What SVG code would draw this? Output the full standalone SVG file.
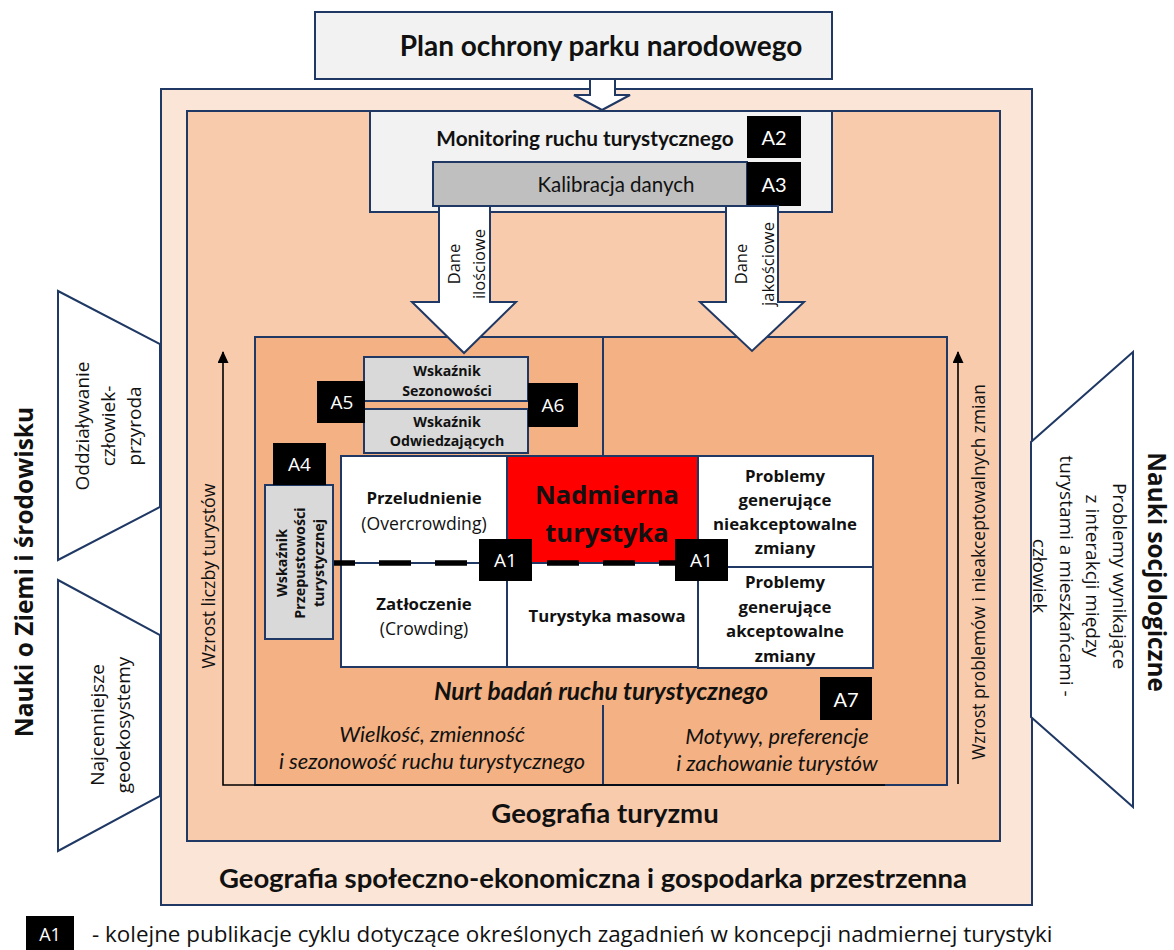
<svg xmlns="http://www.w3.org/2000/svg" width="1174" height="950" viewBox="0 0 1174 950">
<defs>
<style>
.b{stroke:#1F3864;stroke-width:2}
.cal{font-family:Lato,"Liberation Sans",sans-serif;fill:#111}
.seg{font-family:"Open Sans","Noto Sans",sans-serif;fill:#111}
.c{text-anchor:middle;dominant-baseline:central}
.bd{font-weight:bold}
.it{font-style:italic}
.wt{fill:#fff}
.blk{fill:#000}
.cell{fill:#fff;stroke:#1F3864;stroke-width:2}
.gray{fill:#D9D9D9;stroke:#1F3864;stroke-width:2}
.barrow{fill:#fff;stroke:#1F3864;stroke-width:2;stroke-linejoin:miter}
.trap{fill:#fff;stroke:#1F3864;stroke-width:2}
.up{fill:none;stroke:#000;stroke-width:1.6}
</style>
<marker id="ah" markerUnits="userSpaceOnUse" markerWidth="12" markerHeight="12" refX="11" refY="5.5" orient="auto">
<path d="M0,0 L12,5.5 L0,11 z" fill="#000"/>
</marker>
</defs>
<rect width="1174" height="950" fill="#fff"/>

<g id="outer-box">
<rect x="161" y="89" width="871" height="816" fill="#FBE5D6" class="b"/>
<text class="cal bd c" x="593" y="877" font-size="27.5">Geografia społeczno-ekonomiczna i gospodarka przestrzenna</text>
</g>
<g id="middle-box">
<rect x="187" y="111" width="813" height="730" fill="#F8CBAD" class="b"/>
<text class="cal bd c" x="605" y="812" font-size="27.5">Geografia turyzmu</text>
</g>
<g id="inner-box">
<rect x="255" y="337" width="692" height="448" fill="#F4B183" class="b"/>
<line x1="603" y1="337" x2="603" y2="456" class="b"/>
<line x1="603" y1="705" x2="603" y2="785" class="b"/>
<text class="cal bd it c" x="601" y="690" font-size="24.5">Nurt badań ruchu turystycznego</text>
<text class="cal it c" x="432" y="733" font-size="21.8">Wielkość, zmienność</text>
<text class="cal it c" x="432" y="760" font-size="21.8">i sezonowość ruchu turystycznego</text>
<text class="cal it c" x="777" y="735" font-size="21.8">Motywy, preferencje</text>
<text class="cal it c" x="777" y="762" font-size="21.8">i zachowanie turystów</text>
</g>
<g id="a7">
<rect x="820" y="677" width="52" height="43" class="blk"/>
<text class="cal wt c" x="846" y="698.5" font-size="20">A7</text>
</g>

<g id="plan">
<rect x="315" y="12" width="517" height="67" fill="#F2F2F2" class="b"/>
<text class="cal bd c" x="601" y="45" font-size="28">Plan ochrony parku narodowego</text>
</g>

<g id="monitoring">
<rect x="370" y="111" width="462" height="101" fill="#F2F2F2" class="b"/>
<text class="cal bd c" x="585" y="137" font-size="20.8">Monitoring ruchu turystycznego</text>
<rect x="747" y="116" width="54" height="42" class="blk"/>
<text class="cal wt c" x="774" y="137" font-size="20">A2</text>
</g>
<g id="kalibracja">
<rect x="433" y="162" width="314" height="44" fill="#BFBFBF" class="b"/>
<text class="cal c" x="616" y="184" font-size="20.5">Kalibracja danych</text>
<rect x="747" y="162" width="54" height="44" class="blk"/>
<text class="cal wt c" x="774" y="184" font-size="20">A3</text>
</g>

<g id="przeludnienie">
<rect x="341" y="456" width="166" height="107" class="cell"/>
<text class="seg bd c" x="424" y="497" font-size="16.8">Przeludnienie</text>
<text class="seg c" x="424" y="523" font-size="17.6">(Overcrowding)</text>
</g>
<g id="zatloczenie">
<rect x="341" y="563" width="166" height="104" class="cell"/>
<text class="seg bd c" x="424" y="603" font-size="16.8">Zatłoczenie</text>
<text class="seg c" x="424" y="628" font-size="17.6">(Crowding)</text>
</g>
<g id="nadmierna">
<rect x="507" y="456" width="191" height="107" fill="#FF0000" stroke="#1F3864" stroke-width="2"/>
<text class="seg bd c" x="607" y="494" font-size="25.5">Nadmierna</text>
<text class="seg bd c" x="607" y="532" font-size="25.5">turystyka</text>
</g>
<g id="masowa">
<rect x="507" y="563" width="191" height="104" class="cell"/>
<text class="seg bd c" x="607" y="615" font-size="16.7">Turystyka masowa</text>
</g>
<g id="nieakceptowalne">
<rect x="698" y="456" width="175" height="111" class="cell"/>
<text class="seg bd c" x="785" font-size="16.8"><tspan x="785" y="475">Problemy</tspan><tspan x="785" y="499">generujące</tspan><tspan x="785" y="523">nieakceptowalne</tspan><tspan x="785" y="547">zmiany</tspan></text>
</g>
<g id="akceptowalne">
<rect x="698" y="567" width="175" height="101" class="cell"/>
<text class="seg bd c" x="785" font-size="16.8"><tspan x="785" y="581">Problemy</tspan><tspan x="785" y="606">generujące</tspan><tspan x="785" y="630">akceptowalne</tspan><tspan x="785" y="655">zmiany</tspan></text>
</g>

<g id="connectors">
<polygon class="barrow" points="590,79 615,79 615,95 630,95 602,110 574,95 590,95"/>
<polygon class="barrow" points="439,206 490,206 490,302 516,302 464,353 412,302 439,302"/>
<polygon class="barrow" points="726,206 778,206 778,302 804,302 752,351 700,302 726,302"/>
<path class="up" d="M885,785 H223 V352" marker-end="url(#ah)"/>
<path class="up" d="M958,784 V352" marker-end="url(#ah)"/>
<line x1="333" y1="563" x2="698" y2="563" class="b"/>
<path d="M333,563 H691" fill="none" stroke="#000" stroke-width="5.5" stroke-dasharray="32 24" stroke-dashoffset="10"/>
</g>

<g id="dane-labels">
<text class="seg c" transform="translate(465.5,264) rotate(-90)" font-size="16.5"><tspan x="0" y="-12.5">Dane</tspan><tspan x="0" y="12.5">ilościowe</tspan></text>
<text class="seg c" transform="translate(753.5,264) rotate(-90)" font-size="16.5"><tspan x="0" y="-13.5">Dane</tspan><tspan x="0" y="13.5">jakościowe</tspan></text>
</g>

<g id="a1-left">
<rect x="479" y="539" width="53" height="42" class="blk"/>
<text class="seg wt c" x="505.5" y="560" font-size="19">A1</text>
</g>
<g id="a1-right">
<rect x="675" y="539" width="53" height="42" class="blk"/>
<text class="seg wt c" x="701.5" y="560" font-size="19">A1</text>
</g>

<g id="wskaznik-przepustowosci">
<rect x="265" y="485" width="68" height="154" class="gray"/>
<text class="seg bd c" transform="translate(299,563) rotate(-90)" font-size="14.3"><tspan x="0" y="-18.5">Wskaźnik</tspan><tspan x="0" y="0">Przepustowości</tspan><tspan x="0" y="18.5">turystycznej</tspan></text>
</g>
<g id="a4">
<rect x="273" y="443" width="53" height="42" class="blk"/>
<text class="seg wt c" x="299.5" y="464" font-size="19">A4</text>
</g>
<g id="wskaznik-sezonowosci">
<rect x="364" y="357" width="164" height="44" class="gray"/>
<text class="seg bd c" x="447" y="370" font-size="14.2">Wskaźnik</text>
<text class="seg bd c" x="447" y="390" font-size="14.2">Sezonowości</text>
</g>
<g id="wskaznik-odwiedzajacych">
<rect x="364" y="409" width="164" height="44" class="gray"/>
<text class="seg bd c" x="447" y="421" font-size="14.2">Wskaźnik</text>
<text class="seg bd c" x="447" y="440" font-size="14.2">Odwiedzających</text>
</g>
<g id="a5">
<rect x="317" y="381" width="48" height="42" class="blk"/>
<text class="seg wt c" x="342" y="402" font-size="19">A5</text>
</g>
<g id="a6">
<rect x="528" y="383" width="50" height="44" class="blk"/>
<text class="seg wt c" x="553" y="405" font-size="19">A6</text>
</g>

<g id="wzrost-labels">
<text class="seg c" transform="translate(208,576) rotate(-90)" font-size="17.8">Wzrost liczby turystów</text>
<text class="seg c" transform="translate(978,572) rotate(-90)" font-size="17.4">Wzrost problemów i nieakceptowalnych zmian</text>
</g>

<g id="oddzialywanie">
<polygon class="trap" points="58,291 160,344 160,507 58,560"/>
<text class="seg c" transform="translate(108,426) rotate(-90)" font-size="19"><tspan x="0" y="-26">Oddziaływanie</tspan><tspan x="0" y="0">człowiek-</tspan><tspan x="0" y="26">przyroda</tspan></text>
</g>
<g id="geoekosystemy">
<polygon class="trap" points="58,580 160,635 160,796 58,851"/>
<text class="seg c" transform="translate(110,725) rotate(-90)" font-size="19"><tspan x="0" y="-13">Najcenniejsze</tspan><tspan x="0" y="13">geoekosystemy</tspan></text>
</g>
<g id="nauki-ziemia">
<text class="seg bd c" transform="translate(23,572) rotate(-90)" font-size="24.5">Nauki o Ziemi i środowisku</text>
</g>
<g id="problemy-interakcji">
<polygon class="trap" points="1133,352 1031,442 1031,717 1133,807"/>
<text class="seg c" transform="translate(1080,576) rotate(90)" font-size="19"><tspan x="0" y="-40">Problemy wynikające</tspan><tspan x="0" y="-13">z interakcji między</tspan><tspan x="0" y="13">turystami a mieszkańcami -</tspan><tspan x="0" y="40">człowiek</tspan></text>
</g>
<g id="nauki-socjologiczne">
<text class="seg bd c" transform="translate(1157,572) rotate(90)" font-size="24.3">Nauki socjologiczne</text>
</g>

<g id="legend">
<rect x="26" y="916" width="48" height="34" class="blk"/>
<text class="seg wt c" x="50" y="934" font-size="18">A1</text>
<text class="seg" x="92" y="942" font-size="22.4">- kolejne publikacje cyklu dotyczące określonych zagadnień w koncepcji nadmiernej turystyki</text>
</g>
</svg>
